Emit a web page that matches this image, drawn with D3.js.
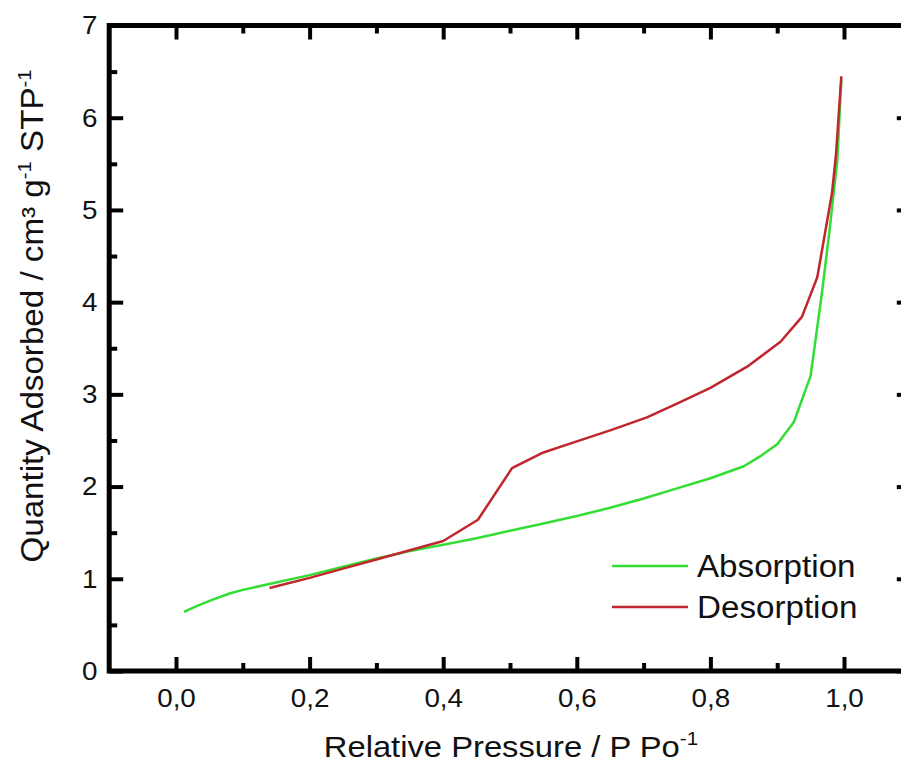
<!DOCTYPE html>
<html>
<head>
<meta charset="utf-8">
<script src="https://cdn.jsdelivr.net/npm/d3@7/dist/d3.min.js"></script>
<style>
  html, body { margin: 0; padding: 0; background: #fff; }
  svg { display: block; font-family: "Liberation Sans", Arial, sans-serif; }
</style>
</head>
<body>
<svg id="chart" width="901" height="765"></svg>
<script>
// ---- data ----
const absorptionX = [0.012, 0.03, 0.05, 0.08, 0.1, 0.15, 0.2, 0.25, 0.3, 0.35, 0.4, 0.45, 0.5, 0.55, 0.6, 0.65, 0.7, 0.75, 0.8, 0.85, 0.875, 0.9, 0.925, 0.95, 0.967, 0.979, 0.99, 0.996];
const absorptionY = [0.64, 0.70, 0.76, 0.84, 0.88, 0.96, 1.04, 1.13, 1.22, 1.30, 1.37, 1.44, 1.52, 1.60, 1.68, 1.77, 1.87, 1.98, 2.09, 2.22, 2.33, 2.46, 2.70, 3.20, 4.10, 4.82, 5.54, 6.42];
const desorptionX = [0.14, 0.2, 0.25, 0.3, 0.35, 0.4, 0.452, 0.503, 0.55, 0.6, 0.65, 0.705, 0.75, 0.8, 0.855, 0.905, 0.937, 0.96, 0.975, 0.982, 0.988, 0.996];
const desorptionY = [0.90, 1.01, 1.11, 1.21, 1.31, 1.41, 1.64, 2.20, 2.37, 2.49, 2.61, 2.75, 2.90, 3.07, 3.30, 3.57, 3.84, 4.27, 4.89, 5.18, 5.60, 6.45];
const xMajorTicks = [0, 0.2, 0.4, 0.6, 0.8, 1.0];
const xMinorTicks = [0.1, 0.3, 0.5, 0.7, 0.9];
const yMajorTicks = [0, 1, 2, 3, 4, 5, 6, 7];
const yMinorTicks = [0.5, 1.5, 2.5, 3.5, 4.5, 5.5, 6.5];
const seriesNames = ["Absorption", "Desorption"];
const seriesColors = ["#33dd33", "#c0262d"];

// ---- layout ----
const svg = d3.select("#chart");
const x = d3.scaleLinear().domain([-0.1, 1.1]).range([109.2, 910.8]);
const y = d3.scaleLinear().domain([0, 7]).range([671, 25.5]);
const fmtX = d3.format(".1f");
const SX = 1.07; // horizontal stretch of the reference's lettering

// frame
svg.append("rect")
  .attr("x", x(-0.1)).attr("y", y(7))
  .attr("width", x(1.1) - x(-0.1)).attr("height", y(0) - y(7))
  .attr("fill", "none").attr("stroke", "#000").attr("stroke-width", 5);

function styleAxis(g, showLabels) {
  g.select(".domain").remove();
  g.selectAll(".tick line").attr("stroke", "#000").attr("stroke-width", 4);
  g.selectAll(".tick text")
    .attr("fill", "#111")
    .attr("transform", `scale(${SX},1)`)
    .style("font-size", "26px")
    .style("display", showLabels ? null : "none");
}

// bottom
svg.append("g").attr("transform", `translate(0,${y(0)})`)
  .call(d3.axisBottom(x).tickValues(xMajorTicks).tickSizeInner(-14).tickSizeOuter(0).tickPadding(18)
    .tickFormat(d => fmtX(d).replace(".", ",")))
  .call(g => styleAxis(g, true));
svg.append("g").attr("transform", `translate(0,${y(0)})`)
  .call(d3.axisBottom(x).tickValues(xMinorTicks).tickSizeInner(-8).tickSizeOuter(0).tickFormat(""))
  .call(g => styleAxis(g, false));
// top
svg.append("g").attr("transform", `translate(0,${y(7)})`)
  .call(d3.axisTop(x).tickValues(xMajorTicks).tickSizeInner(-14).tickSizeOuter(0).tickFormat(""))
  .call(g => styleAxis(g, false));
svg.append("g").attr("transform", `translate(0,${y(7)})`)
  .call(d3.axisTop(x).tickValues(xMinorTicks).tickSizeInner(-8).tickSizeOuter(0).tickFormat(""))
  .call(g => styleAxis(g, false));
// left
svg.append("g").attr("transform", `translate(${x(-0.1)},0)`)
  .call(d3.axisLeft(y).tickValues(yMajorTicks).tickSizeInner(-14).tickSizeOuter(0).tickPadding(11)
    .tickFormat(d3.format("d")))
  .call(g => styleAxis(g, true));
svg.append("g").attr("transform", `translate(${x(-0.1)},0)`)
  .call(d3.axisLeft(y).tickValues(yMinorTicks).tickSizeInner(-8).tickSizeOuter(0).tickFormat(""))
  .call(g => styleAxis(g, false));
// right
svg.append("g").attr("transform", `translate(${x(1.1)},0)`)
  .call(d3.axisRight(y).tickValues(yMajorTicks).tickSizeInner(-14).tickSizeOuter(0).tickFormat(""))
  .call(g => styleAxis(g, false));
svg.append("g").attr("transform", `translate(${x(1.1)},0)`)
  .call(d3.axisRight(y).tickValues(yMinorTicks).tickSizeInner(-8).tickSizeOuter(0).tickFormat(""))
  .call(g => styleAxis(g, false));

// lines
const line = d3.line().x(d => x(d[0])).y(d => y(d[1]));
const absData = absorptionX.map((v, i) => [v, absorptionY[i]]);
const desData = desorptionX.map((v, i) => [v, desorptionY[i]]);
svg.append("path").datum(absData).attr("d", line)
  .attr("fill", "none").attr("stroke", seriesColors[0]).attr("stroke-width", 2.5).attr("stroke-linejoin", "round");
svg.append("path").datum(desData).attr("d", line)
  .attr("fill", "none").attr("stroke", seriesColors[1]).attr("stroke-width", 2.5).attr("stroke-linejoin", "round");

// legend
const legend = svg.append("g");
seriesNames.forEach((name, i) => {
  const ly = 566 + i * 41;
  legend.append("line").attr("x1", 612).attr("x2", 688).attr("y1", ly).attr("y2", ly)
    .attr("stroke", seriesColors[i]).attr("stroke-width", 2.5);
  legend.append("text").attr("transform", `translate(697,${ly + 11}) scale(${SX},1)`)
    .style("font-size", "31px").attr("fill", "#111").text(name);
});

// axis titles
const xt = svg.append("text").attr("transform", `translate(511,757) scale(${SX * 1.02},1)`)
  .attr("text-anchor", "middle").style("font-size", "30px").attr("fill", "#111");
xt.append("tspan").text("Relative Pressure / P Po");
xt.append("tspan").attr("dy", -12).style("font-size", "19px").text("-1");

const yt = svg.append("text").attr("transform", `translate(43,316) rotate(-90) scale(${SX},1)`)
  .attr("text-anchor", "middle").style("font-size", "31px").attr("fill", "#111");
yt.append("tspan").text("Quantity Adsorbed / cm³ g");
yt.append("tspan").attr("dy", -12).style("font-size", "19px").text("-1");
yt.append("tspan").attr("dy", 12).text(" STP");
yt.append("tspan").attr("dy", -12).style("font-size", "19px").text("-1");
</script>
</body>
</html>
